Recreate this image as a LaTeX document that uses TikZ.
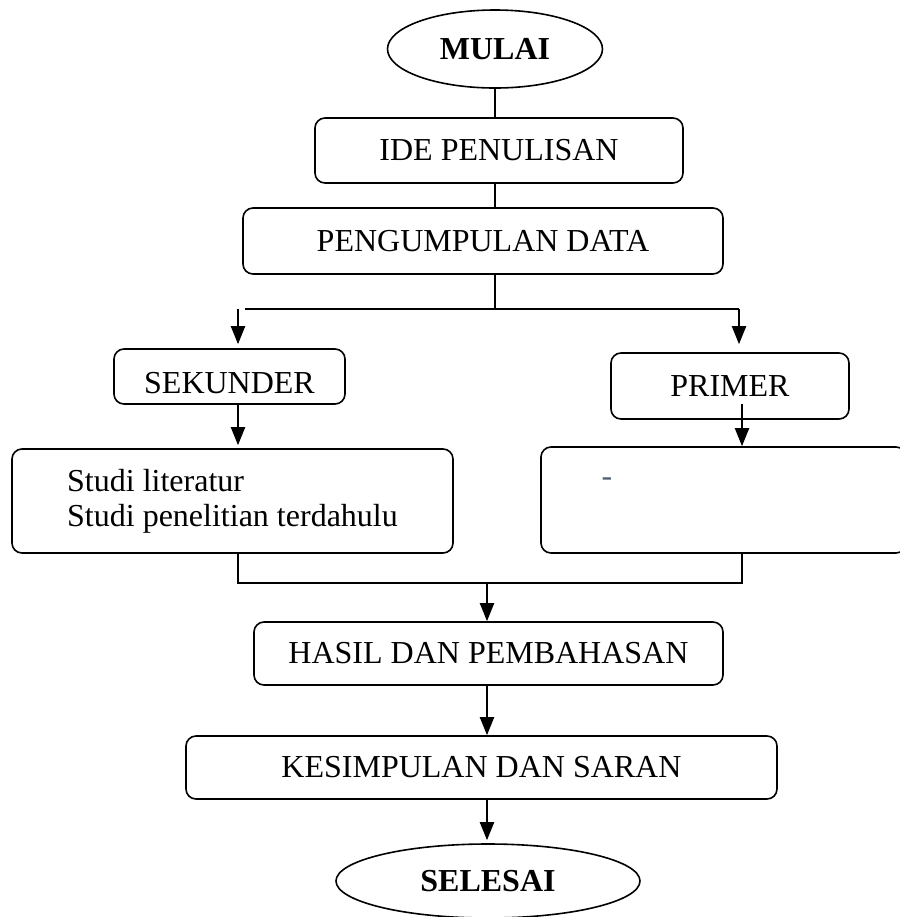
\documentclass[tikz,border=0pt]{standalone}
\usepackage{fontspec}
\setmainfont{Liberation Serif}
\usetikzlibrary{shapes.geometric,arrows.meta}
\definecolor{dashgray}{RGB}{85,95,115}
\begin{document}
\begin{tikzpicture}[x=0.5pt,y=-0.5pt,
  box/.style={draw,rounded corners=5pt,line width=0.8pt,inner sep=0pt,font=\fontsize{16}{17.5}\selectfont},
  term/.style={draw,ellipse,line width=0.8pt,inner sep=0pt,font=\fontsize{16}{19}\selectfont\bfseries},
  ln/.style={line width=0.9pt},
  arr/.style={line width=1pt,-{Triangle[length=9pt,width=7pt]}}]
\useasboundingbox (0,0) rectangle (900,917);
\node[term,minimum width=107.5pt,minimum height=39pt] (mulai) at (495,49) {MULAI};
\node[box,minimum width=184pt,minimum height=32.5pt] (ide) at (499,150.5) {IDE PENULISAN};
\node[box,minimum width=240pt,minimum height=33pt] (kumpul) at (483,241) {PENGUMPULAN DATA};
\node[box,minimum width=115.5pt,minimum height=27.5pt,text height=17pt,text depth=0pt] (sekunder) at (229.5,376.5) {SEKUNDER};
\node[box,minimum width=119pt,minimum height=33pt] (primer) at (730,386) {PRIMER};
\node[box,minimum width=220.5pt,minimum height=52pt,align=left] (studi) at (232.5,501) {Studi literatur\\Studi penelitian terdahulu};
\node[box,minimum width=182.5pt,minimum height=53pt] (primdata) at (723.5,500) {};
\node[text=dashgray,font=\fontsize{16}{19}\selectfont] (dash) at (607,482) {-};
\node[box,minimum width=234.5pt,minimum height=31.5pt] (hasil) at (488.5,653.5) {HASIL DAN PEMBAHASAN};
\node[box,minimum width=295.5pt,minimum height=31.5pt] (simpul) at (481.5,767.5) {KESIMPULAN DAN SARAN};
\node[term,minimum width=152pt,minimum height=37pt] (selesai) at (488,881) {SELESAI};
\coordinate (jt) at (495,309);
\coordinate (jl) at (238,309);
\coordinate (jr) at (739,309);
\coordinate (ps) at (742,404);
\coordinate (jbl) at (238,583);
\coordinate (jbr) at (742,583);
\coordinate (jb) at (487,583);
\draw[ln] (mulai.south) -- (mulai.south |- ide.north);
\draw[ln] (mulai.south |- ide.south) -- (mulai.south |- kumpul.north);
\draw[ln] (mulai.south |- kumpul.south) -- (jt);
\draw[ln] ([xshift=3.5pt]jl) -- (jr);
\draw[arr] (jl) -- ([yshift=2pt]sekunder.north -| jl);
\draw[arr] (jr) -- ([yshift=4pt]primer.north -| jr);
\draw[arr] (sekunder.south -| jl) -- ([yshift=1.5pt]studi.north -| jl);
\draw[arr] (ps) -- (primdata.north -| ps);
\draw[ln] (studi.south -| jbl) -- (jbl) -- (jbr) -- (primdata.south -| jbr);
\draw[arr] (jb) -- (hasil.north -| jb);
\draw[arr] (hasil.south -| jb) -- (simpul.north -| jb);
\draw[arr] (simpul.south -| jb) -- ([yshift=1.5pt]selesai.north -| jb);
\end{tikzpicture}
\end{document}
